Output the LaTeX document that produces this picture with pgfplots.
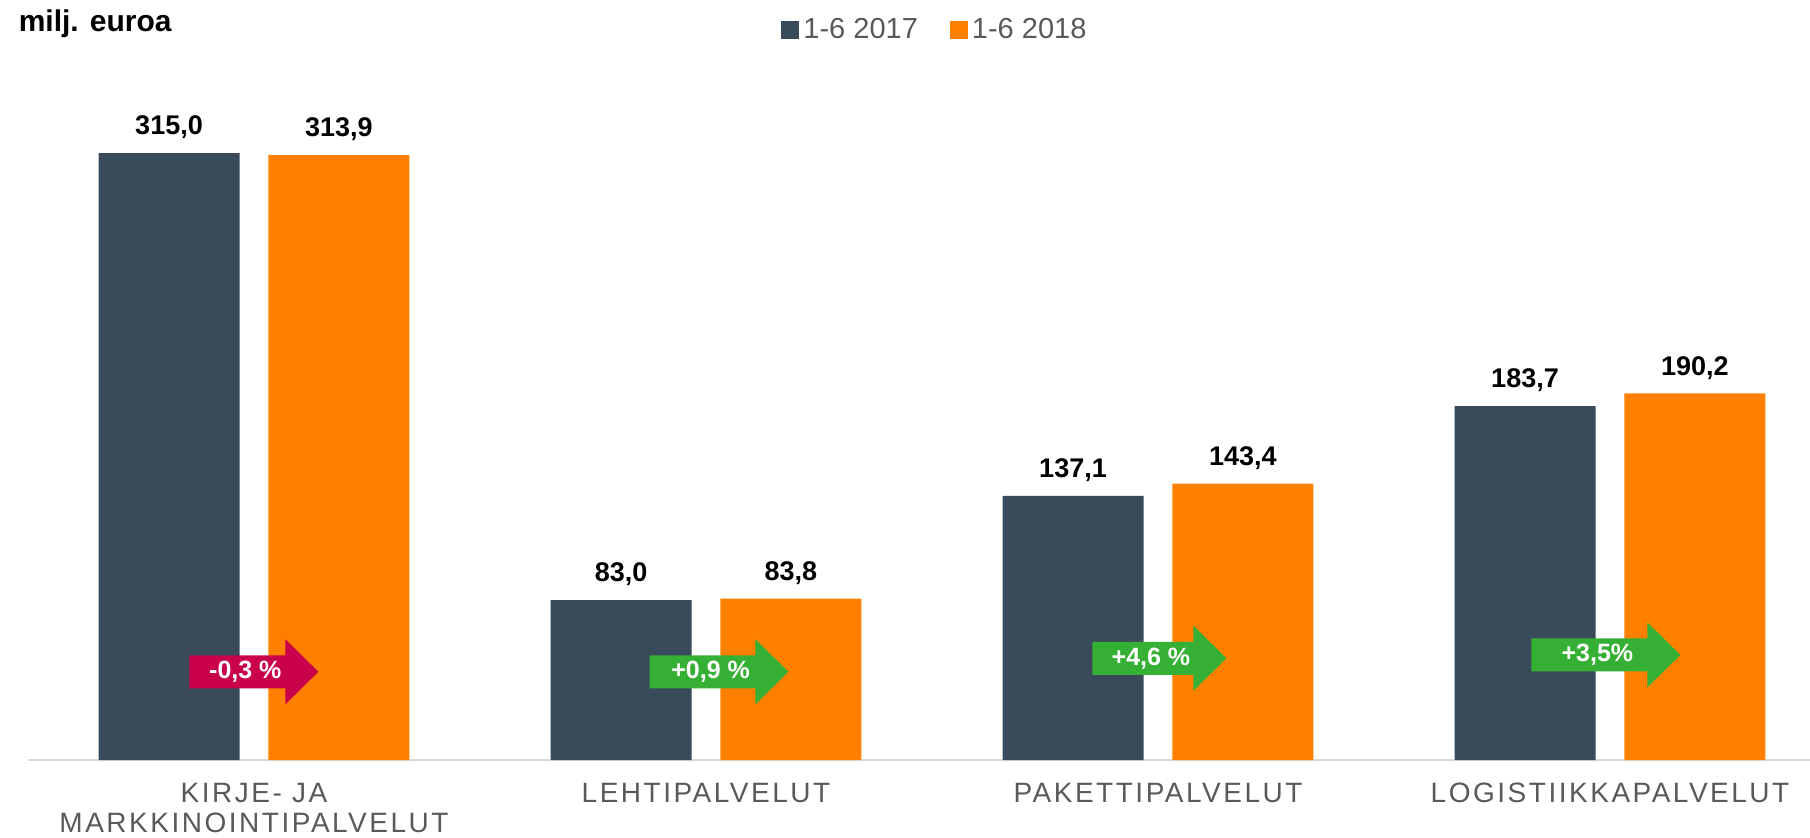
\documentclass[border=0pt]{standalone}
\usepackage{pgfplots}
\pgfplotsset{compat=1.18}
\usepackage{fontspec}
\setmainfont{Liberation Sans}
\definecolor{cdark}{HTML}{394B5A}
\definecolor{corange}{HTML}{FF8000}
\definecolor{cred}{HTML}{C9004A}
\definecolor{cgreen}{HTML}{36B034}
\definecolor{cgray}{HTML}{595959}
\definecolor{cline}{HTML}{D9D9D9}
% change arrow: #1 x (axis), #2 y (axis), #3 total length (pt), #4 colour, #5 text
\newcommand{\chg}[5]{%
  \fill[#4] (axis cs:#1,#2) ++(0pt,8.25pt) -- ++(#3pt-16.5pt,0pt) -- ++(0pt,8pt)
     -- ++(16.5pt,-16.25pt) -- ++(-16.5pt,-16.25pt) -- ++(0pt,8pt)
     -- ++(-#3pt+16.5pt,0pt) -- cycle;
  \path (axis cs:#1,#2) ++(0.5*#3pt-4.25pt,0pt)
     node[text=white, inner sep=0pt, font=\bfseries\fontsize{12.5}{14}\selectfont] {#5};
}
\begin{document}
\begin{tikzpicture}
\useasboundingbox (0,0) rectangle (905pt,418.5pt);
\begin{axis}[
  at={(14pt,38.5pt)}, anchor=south west,
  scale only axis, width=891pt, height=380pt,
  xmin=-0.5, xmax=3.4425, ymin=0, ymax=394.4,
  axis x line=bottom, axis y line=none,
  x axis line style={draw=cline, line width=1pt, -},
  ytick=\empty,
  xtick={0,1,2,3},
  xticklabels={{KIRJE- JA\\MARKKINOINTIPALVELUT},LEHTIPALVELUT,PAKETTIPALVELUT,LOGISTIIKKAPALVELUT},
  major tick length=0pt,
  xticklabel shift=11.35pt,
  xticklabel style={anchor=north, inner sep=0pt, align=center, text=cgray,
    font=\fontsize{14}{15}\selectfont\addfontfeature{LetterSpace=9}},
  ybar,
  bar width=0.312,
  clip=false,
  nodes near coords,
  every node near coord/.append style={anchor=south, inner sep=0pt, text depth=0pt, yshift=9pt,
    text=black, font=\bfseries\fontsize{13.5}{15}\selectfont},
  /pgf/number format/.cd, fixed, fixed zerofill, precision=1, use comma, assume math mode=true,
  /pgfplots/.cd,
  legend columns=2,
  legend style={at={(axis description cs:0.5095,0.9605)}, anchor=center, draw=none, fill=none,
    text=cgray, font=\fontsize{14.5}{16}\selectfont,
    /tikz/every even column/.append style={column sep=14pt}},
  legend image code/.code={\fill[#1] (0pt,-4.5pt) rectangle (9pt,4.5pt);},
]
\addplot[ybar, bar shift=-0.188, fill=cdark, draw=none]
  coordinates {(0,315.0) (1,83.0) (2,137.1) (3,183.7)};
\addlegendentry{1-6 2017}
\addplot[ybar, bar shift=0.188, fill=corange, draw=none]
  coordinates {(0,313.9) (1,83.8) (2,143.4) (3,190.2)};
\addlegendentry{1-6 2018}
\chg{-0.143}{45.8}{64.5}{cred}{-0,3 \%}
\chg{0.8754}{45.8}{69.4}{cgreen}{+0,9 \%}
\chg{1.855}{52.8}{67}{cgreen}{+4,6 \%}
\chg{2.826}{54.5}{74.5}{cgreen}{+3,5\%}
\end{axis}
\node[anchor=base west, inner sep=0pt, font=\bfseries\fontsize{15}{16}\selectfont] at (9.2pt,402.7pt) {milj. euroa};
\end{tikzpicture}
\end{document}
